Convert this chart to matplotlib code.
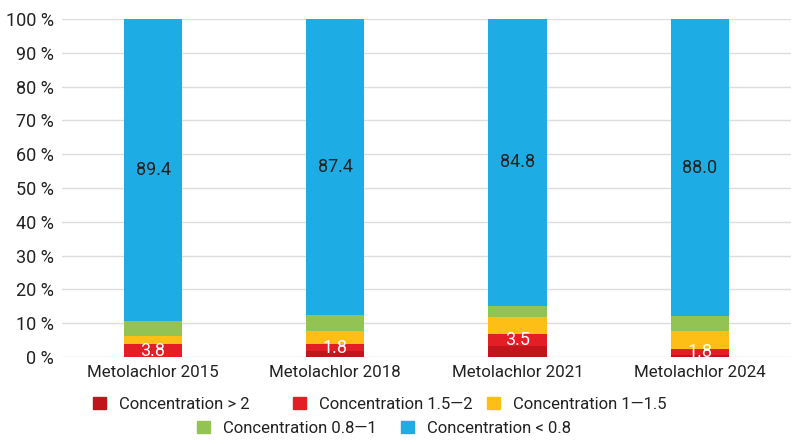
import matplotlib
matplotlib.use("Agg")
import matplotlib.pyplot as plt
from matplotlib import font_manager
from matplotlib.patches import Patch
import numpy as np

categories = ["Metolachlor 2015", "Metolachlor 2018", "Metolachlor 2021", "Metolachlor 2024"]
series_names = ["Concentration > 2", "Concentration 1.5\u20142", "Concentration 1\u20141.5",
                "Concentration 0.8\u20141", "Concentration < 0.8"]
over_2 = [0.0, 1.9, 3.3, 0.5]
c15_2 = [3.8, 1.8, 3.5, 1.8]
c1_15 = [2.4, 3.9, 4.9, 5.4]
c08_1 = [4.4, 4.9, 3.5, 4.3]
under_08 = [89.4, 87.4, 84.8, 88.0]
colors = ["#C0161B", "#E31E24", "#FDBE16", "#92C353", "#1EACE4"]
yticks = list(range(0, 101, 10))

names = {f.name for f in font_manager.fontManager.ttflist}
fam = "Liberation Sans Narrow" if "Liberation Sans Narrow" in names else "Roboto"
plt.rcParams["font.family"] = [fam, "DejaVu Sans"]

fig = plt.figure(figsize=(8, 4.44), dpi=100)
ax = fig.add_axes([0.0775, 0.196, 0.911, 0.761])

x = np.arange(len(categories))
stack = [over_2, c15_2, c1_15, c08_1, under_08]
bottom = np.zeros(len(categories))
for vals, col in zip(stack, colors):
    ax.bar(x, vals, width=0.32, bottom=bottom, color=col, zorder=3)
    bottom += np.array(vals)

# labels
b = np.array(over_2)
for i, v in enumerate(c15_2):
    ax.text(x[i], b[i] + v / 2, f"{v:.1f}", ha="center", va="center",
            color="white", fontsize=13, zorder=4)
b = np.array(over_2) + np.array(c15_2) + np.array(c1_15) + np.array(c08_1)
for i, v in enumerate(under_08):
    ax.text(x[i], b[i] + v / 2, f"{v:.1f}", ha="center", va="center",
            color="#222222", fontsize=13, zorder=4)

ax.set_xlim(-0.5, 3.5)
ax.set_ylim(0, 100)
ax.set_yticks(yticks)
ax.set_yticklabels([f"{t} %" for t in yticks])
ax.set_xticks(x)
ax.set_xticklabels(categories)
ax.tick_params(axis="both", length=0, labelsize=13, colors="#222222")
ax.tick_params(axis="x", labelsize=12.2, pad=6)
ax.tick_params(axis="y", pad=6)
ax.yaxis.grid(True, color="#dddddd", lw=1, zorder=0)
for s in ax.spines.values():
    s.set_visible(False)

# legend entries placed one by one (uneven spacing as in the original)
leg_pos = [(93, 404), (293, 404), (487, 404), (197, 428), (401, 428)]
for (px, py), name, col in zip(leg_pos, series_names, colors):
    fig.legend([Patch(color=col)], [name], loc="center left",
               bbox_to_anchor=(px / 800, 1 - py / 444), frameon=False,
               fontsize=12, handlelength=0.75, handleheight=0.75,
               handletextpad=0.8, borderpad=0, borderaxespad=0,
               labelcolor="#222222")

fig.savefig("out.png", dpi=100)
